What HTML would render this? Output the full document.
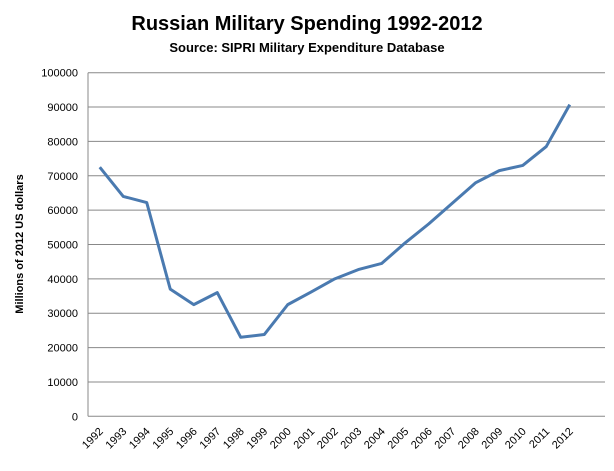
<!DOCTYPE html>
<html><head><meta charset="utf-8"><style>
body{margin:0;background:#fff;width:614px;height:466px;overflow:hidden;font-family:"Liberation Sans",sans-serif}
</style></head><body>
<svg width="614" height="466" xmlns="http://www.w3.org/2000/svg">
<text x="307" y="30" text-anchor="middle" font-size="20" font-weight="bold" font-family="Liberation Sans, sans-serif">Russian Military Spending 1992-2012</text>
<text x="307" y="52" text-anchor="middle" font-size="13" font-weight="bold" font-family="Liberation Sans, sans-serif">Source: SIPRI Military Expenditure Database</text>
<text transform="translate(23,244) rotate(-90)" text-anchor="middle" font-size="11" font-weight="bold">Millions of 2012 US dollars</text>
<g id="grid"></g><g id="yt"></g><g id="xt"></g>
<path id="line" fill="none" stroke="#4a7ab0" stroke-width="3" stroke-linejoin="round"/>
</svg>
<script>
const years=["1992","1993","1994","1995","1996","1997","1998","1999","2000","2001","2002","2003","2004","2005","2006","2007","2008","2009","2010","2011","2012"];
const spending=[72500,64000,62200,37000,32500,36000,23000,23800,32500,36200,40000,42700,44500,50500,56000,62000,68000,71500,73000,78500,90700];
const yTicks=[0,10000,20000,30000,40000,50000,60000,70000,80000,90000,100000];
const NS="http://www.w3.org/2000/svg";
const x0=88,x1=605,yTop=72.7,yBot=416.3,step=23.5,yMax=100000;
const X=i=>x0+step*(i+0.5);
const Y=v=>yBot-(v/yMax)*(yBot-yTop);
const grid=document.getElementById('grid'),yt=document.getElementById('yt'),xt=document.getElementById('xt');
yTicks.forEach(t=>{
 const l=document.createElementNS(NS,'line');
 l.setAttribute('x1',x0);l.setAttribute('x2',x1);l.setAttribute('y1',Y(t));l.setAttribute('y2',Y(t));
 l.setAttribute('stroke','#888');l.setAttribute('stroke-width','1');
 
 
 grid.appendChild(l);
 const s=document.createElementNS(NS,'text');
 s.setAttribute('x',78);s.setAttribute('y',Y(t)+4);s.setAttribute('text-anchor','end');s.setAttribute('font-size','11');
 s.textContent=t;
 
 
 yt.appendChild(s);
});
const ax=document.createElementNS(NS,'line');
ax.setAttribute('x1',x0);ax.setAttribute('x2',x0);ax.setAttribute('y1',yTop);ax.setAttribute('y2',yBot);ax.setAttribute('stroke','#888');


grid.appendChild(ax);
years.forEach((y,i)=>{
 const s=document.createElementNS(NS,'text');
 const xx=X(i)+4,yy=432;
 s.setAttribute('x',xx);s.setAttribute('y',yy);s.setAttribute('text-anchor','end');s.setAttribute('font-size','11');
 s.setAttribute('transform','rotate(-45 '+xx+' '+yy+')');
 s.textContent=y;
 
 
 xt.appendChild(s);
});
document.getElementById('line').setAttribute('d',spending.map((v,i)=>(i?'L':'M')+X(i)+' '+Y(v)).join(' '));
</script>
</body></html>
